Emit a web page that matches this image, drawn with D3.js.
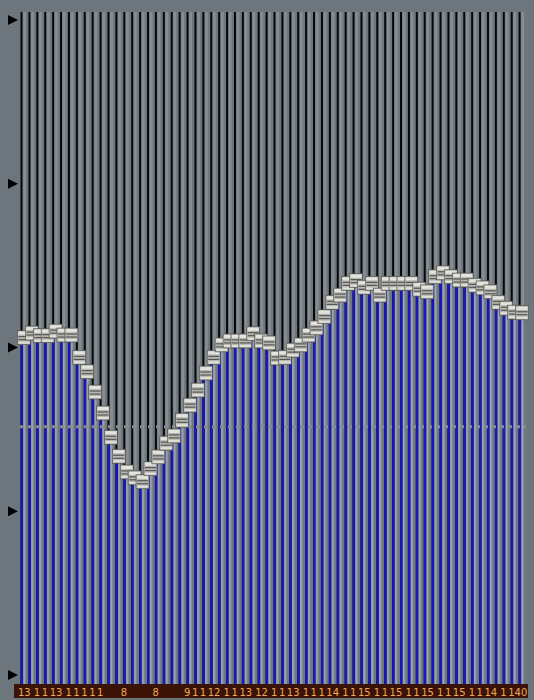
<!DOCTYPE html>
<html><head><meta charset="utf-8">
<script src="https://cdn.jsdelivr.net/npm/d3@7"></script>
<style>body{margin:0;background:#6d767d}svg{display:block}</style>
</head><body><svg id="c" width="534" height="700"></svg>
<script>
const values=[51.5,52.2,51.8,51.8,52.5,51.9,51.9,48.5,46.3,43.2,40.0,36.3,33.4,31.0,30.1,29.5,31.5,33.3,35.4,36.5,38.9,41.2,43.5,46.1,48.5,50.4,51.0,51.0,51.0,52.1,51.0,50.7,48.4,48.5,49.6,50.4,51.9,53.0,54.7,56.9,58.0,59.8,60.2,59.2,59.8,58.0,59.8,59.8,59.8,59.8,58.9,58.5,60.8,61.4,60.8,60.3,60.3,59.5,59.1,58.5,56.9,56.0,55.4,55.3];
const labels=["13","","1","1","13","","1","1","1","1","1","","","8","","","","8","","","","9","1","1","12","","1","1","13","",
"12","","1","1","13","","1","1","1","14","","1","1","15","","1","1","15","","1","1","15","","1","1","15","","1","1","14","","1","140",""];
const yTicks=[0,25,50,75,100];
const refValue=37.9;

const svg=d3.select("#c");
const x=d3.scaleBand().domain(d3.range(values.length)).range([20,526]).padding(0);
const y=d3.scaleLinear().domain([0,100]).range([675,20]);
const plotTop=12,bot=684,w=x.bandwidth();
const g=svg.append("g");
const col=g.selectAll("g.col").data(values).join("g").attr("transform",(d,i)=>`translate(${x(i)},0)`);
col.append("rect").attr("x",0).attr("y",plotTop).attr("width",w).attr("height",bot-plotTop).attr("fill","#6e777d");
col.append("rect").attr("x",0.5).attr("y",plotTop).attr("width",2).attr("height",bot-plotTop).attr("fill","#080808");
col.append("rect").attr("x",3.2).attr("y",plotTop).attr("width",2.8).attr("height",bot-plotTop).attr("fill","#858d92");
col.append("rect").attr("x",0.5).attr("y",d=>y(d)).attr("width",2.6).attr("height",d=>bot-y(d)).attr("fill","#1818b8");
col.append("rect").attr("x",3.5).attr("y",d=>y(d)).attr("width",1.5).attr("height",d=>bot-y(d)).attr("fill","#9aa2b8");
g.append("line").attr("x1",20).attr("x2",526).attr("y1",y(refValue)).attr("y2",y(refValue))
 .attr("stroke","#858d93").attr("stroke-width",3).attr("stroke-dasharray","4,4");
const h=g.selectAll("g.h").data(values).join("g").attr("transform",(d,i)=>`translate(${x(i)+w/2},${y(d)})`);
h.append("rect").attr("x",-6.5).attr("y",-7).attr("width",13).attr("height",14).attr("fill","#b8b8b2").attr("stroke","#4a4a46").attr("stroke-width",0.6);
h.append("rect").attr("x",-5.5).attr("y",-6).attr("width",11).attr("height",3).attr("fill","#e4e4de");
h.append("line").attr("x1",-5.5).attr("x2",5.5).attr("y1",-1).attr("y2",-1).attr("stroke","#404040").attr("stroke-width",1);
h.append("line").attr("x1",-5.5).attr("x2",5.5).attr("y1",2).attr("y2",2).attr("stroke","#404040").attr("stroke-width",1);
h.append("rect").attr("x",-5.5).attr("y",4).attr("width",11).attr("height",2).attr("fill","#e0e0da");
g.selectAll("path.t").data(yTicks).join("path").attr("d",d=>`M8,${y(d)-5}L18,${y(d)}L8,${y(d)+5}Z`).attr("fill","#000");
g.append("rect").attr("x",14).attr("y",684).attr("width",514).attr("height",14).attr("fill","#3a1206");
const lab=g.selectAll("g.l").data(labels).join("g").attr("transform",(d,i)=>`translate(${x(i)},0)`).filter(d=>d!=="");
lab.append("text").attr("x",-2).attr("y",696).text(d=>d).attr("fill","#f0a858")
 .attr("font-family","DejaVu Sans").attr("font-size",10);
</script></body></html>
